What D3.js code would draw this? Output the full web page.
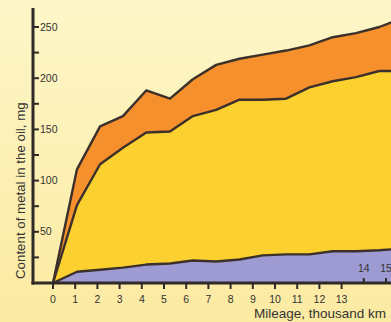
<!DOCTYPE html>
<html>
<head>
<meta charset="utf-8">
<script src="https://cdn.jsdelivr.net/npm/d3@7"></script>
<style>
  body { margin: 0; background: #fcf0b0; }
  svg { display: block; font-family: "Liberation Sans", Arial, sans-serif; }
</style>
</head>
<body>
<div id="chart"></div>
<script>
const width = 391
    height = 322
    margin = {top: 8, right: 0, bottom: 39, left: 33};

// mileage, thousand km
const mileage = [0, 1.08, 2.12, 3.15, 4.2, 5.27, 6.3, 7.35, 8.4, 9.45, 10.5, 11.55, 12.6, 13.65, 14.7, 15.3];
// boundaries of the stacked layers, mg
const lowerLine  = [0, 11, 13, 15, 18, 19, 22, 21, 23, 27, 28, 28, 31, 31, 32, 33];
const middleLine = [0, 76, 116, 132, 147, 148, 163, 169, 179, 179, 180, 191, 197, 201, 207, 207];
const upperLine  = [0, 111, 153, 163, 188, 180, 199, 213, 219, 223, 227, 232, 240, 244, 250, 255];

const xTicksBelow = [0, 1, 2, 3, 4, 5, 6, 7, 8, 9, 10, 11, 12, 13];
const xTicksAbove = [14, 15];
const yTicks = [50, 100, 150, 200, 250];
const yMinorTicks = [25, 75, 125, 175, 225];

const points = mileage.map((m, i) => ({m, lo: lowerLine[i], mid: middleLine[i], up: upperLine[i]}));

let svg = d3.select("#chart").append("svg")
    .attr("width", width)
    .attr("height", height);

// background gradient
let grad = svg.append("defs").append("linearGradient")
    .attr("id", "bg").attr("x1", 0).attr("y1", 0).attr("x2", 0).attr("y2", 1);
grad.append("stop").attr("offset", "0%").attr("stop-color", "#fdf6c8");
grad.append("stop").attr("offset", "100%").attr("stop-color", "#fbeaa2");
svg.append("rect").attr("width", width).attr("height", height).attr("fill", "url(#bg)");

let x = d3.scaleLinear()
    .domain([0, 1])
    .range([53, 75.2]);

let y = d3.scaleLinear()
    .domain([0, 250])
    .range([283, 27]);

const areaOf = (lo, hi) => d3.area()
    .x(d => x(d.m))
    .y0(d => y(lo(d)))
    .y1(d => y(hi(d)));

const lineOf = f => d3.line()
    .x(d => x(d.m))
    .y(d => y(f(d)));

svg.append("path").datum(points)
    .attr("d", areaOf(d => d.mid, d => d.up))
    .attr("fill", "#f6902c");
svg.append("path").datum(points)
    .attr("d", areaOf(d => d.lo, d => d.mid))
    .attr("fill", "#fcd02f");
svg.append("path").datum(points)
    .attr("d", areaOf(d => 0, d => d.lo))
    .attr("fill", "#9e9bd2");

[d => d.up, d => d.mid, d => d.lo].forEach(f => {
    svg.append("path").datum(points)
        .attr("d", lineOf(f))
        .attr("fill", "none")
        .attr("stroke", "#3b302b")
        .attr("stroke-width", 2.4)
        .attr("stroke-linejoin", "round");
});

const ink = "#2f2a27";

// y axis
svg.append("line")
    .attr("x1", 33).attr("x2", 33)
    .attr("y1", 8).attr("y2", 284.5)
    .attr("stroke", ink).attr("stroke-width", 3);

svg.selectAll(".ytick")
    .data(yTicks.concat(yMinorTicks))
    .join("line")
    .attr("x1", 33).attr("x2", 39)
    .attr("y1", d => y(d)).attr("y2", d => y(d))
    .attr("stroke", ink).attr("stroke-width", 2);

svg.selectAll(".ylab")
    .data(yTicks)
    .join("text")
    .attr("x", 40)
    .attr("y", d => y(d))
    .attr("dy", "0.35em")
    .attr("font-size", 10.5)
    .attr("fill", "#333")
    .text(d => d);

// x axis
svg.append("line")
    .attr("x1", 31.5).attr("x2", width)
    .attr("y1", 283).attr("y2", 283)
    .attr("stroke", ink).attr("stroke-width", 3);

svg.selectAll(".xtick")
    .data(xTicksBelow)
    .join("line")
    .attr("x1", d => x(d)).attr("x2", d => x(d))
    .attr("y1", 283).attr("y2", 289)
    .attr("stroke", ink).attr("stroke-width", 2);

svg.selectAll(".xlab")
    .data(xTicksBelow)
    .join("text")
    .attr("x", d => x(d))
    .attr("y", 303)
    .attr("text-anchor", "middle")
    .attr("font-size", 10.5)
    .attr("fill", "#333")
    .text(d => d);

svg.selectAll(".xtick2")
    .data(xTicksAbove)
    .join("line")
    .attr("x1", d => x(d)).attr("x2", d => x(d))
    .attr("y1", 278).attr("y2", 283)
    .attr("stroke", ink).attr("stroke-width", 2);

svg.selectAll(".xlab2")
    .data(xTicksAbove)
    .join("text")
    .attr("x", d => x(d))
    .attr("y", 272)
    .attr("text-anchor", "middle")
    .attr("font-size", 10.5)
    .attr("fill", "#333")
    .text(d => d);

// axis titles
svg.append("text")
    .attr("x", 386)
    .attr("y", 318)
    .attr("text-anchor", "end")
    .attr("font-size", 13.5)
    .attr("fill", "#333")
    .text("Mileage, thousand km");

svg.append("text")
    .attr("transform", "translate(25,279) rotate(-90)")
    .attr("text-anchor", "start")
    .attr("font-size", 13.3)
    .attr("fill", "#333")
    .text("Content of metal in the oil, mg");
</script>
</body>
</html>
